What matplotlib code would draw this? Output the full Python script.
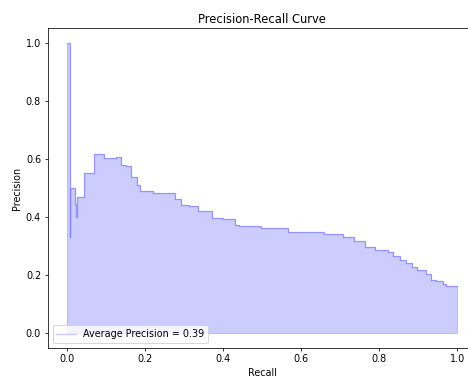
import matplotlib
matplotlib.use('Agg')
import matplotlib.pyplot as plt

# Recall / precision points
recall = [0.0, 0.006, 0.008, 0.020, 0.022, 0.024, 0.042, 0.068, 0.093, 0.126,
          0.138, 0.151, 0.163, 0.180, 0.186, 0.221, 0.251, 0.276, 0.292, 0.311,
          0.334, 0.371, 0.400, 0.430, 0.441, 0.497, 0.533, 0.567, 0.658, 0.706,
          0.735, 0.764, 0.789, 0.823, 0.835, 0.854, 0.868, 0.883, 0.896, 0.920,
          0.932, 0.946, 0.963, 0.972, 1.0]
precision = [1.0, 0.333, 0.500, 0.444, 0.400, 0.468, 0.553, 0.618, 0.603, 0.608,
             0.581, 0.577, 0.537, 0.511, 0.489, 0.484, 0.482, 0.462, 0.443, 0.437,
             0.422, 0.398, 0.392, 0.374, 0.370, 0.364, 0.362, 0.350, 0.343, 0.331,
             0.317, 0.297, 0.288, 0.279, 0.267, 0.252, 0.241, 0.227, 0.218, 0.203,
             0.185, 0.179, 0.168, 0.161, 0.161]
avg_precision = 0.39

# low dpi so text and lines come out as small as in the reference
dpi = 69
fig = plt.figure(figsize=(468 / dpi, 378 / dpi), dpi=dpi)
# axes runs past the right edge, like the cropped original
ax = fig.add_axes([0.102, 0.080, 0.917, 0.845])

ax.step(recall, precision, color='b', alpha=0.2, where='post',
        label=f'Average Precision = {avg_precision:.2f}')
ax.fill_between(recall, precision, step='post', alpha=0.2, color='b')

ax.set_xlabel('Recall')
ax.set_ylabel('Precision')
ax.set_title('Precision-Recall Curve')
ax.legend(loc='lower left')

fig.savefig('out.png', dpi=dpi)
